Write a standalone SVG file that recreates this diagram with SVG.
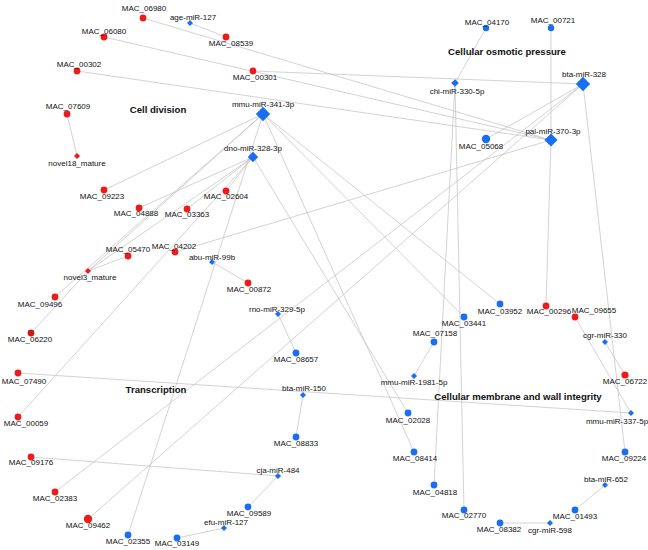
<svg xmlns="http://www.w3.org/2000/svg" xmlns:xlink="http://www.w3.org/1999/xlink" width="648" height="550" viewBox="0 0 648 550">
<style>
.e{stroke:#c4c4c4;stroke-width:0.75;fill:none}
.r{fill:#ec1c1c}
.b{fill:#1a6ff0}
text{font-family:"Liberation Sans",Arial,sans-serif;font-size:8px;fill:#111;text-anchor:middle}
text.h{font-size:9.6px;font-weight:bold}
</style>
<defs>
<path id="dl" d="M0,-7.2L7.2,0L0,7.2L-7.2,0Z"/>
<path id="dp" d="M0,-6.6L6.6,0L0,6.6L-6.6,0Z"/>
<path id="dm" d="M0,-5.2L5.2,0L0,5.2L-5.2,0Z"/>
<path id="dc" d="M0,-3.8L3.8,0L0,3.8L-3.8,0Z"/>
<path id="ds" d="M0,-3L3,0L0,3L-3,0Z"/>
</defs>
<rect width="648" height="550" fill="#fff"/>
<g id="edges" class="e">
<line x1="190" y1="23" x2="226" y2="37"/>
<line x1="143" y1="18" x2="551" y2="140"/>
<line x1="104" y1="37" x2="551" y2="140"/>
<line x1="77" y1="71" x2="551" y2="140"/>
<line x1="253" y1="71" x2="583" y2="84"/>
<line x1="67" y1="114" x2="77" y2="156"/>
<line x1="486" y1="28" x2="455" y2="83"/>
<line x1="551" y1="28" x2="551" y2="140"/>
<line x1="551" y1="140" x2="546" y2="306"/>
<line x1="486" y1="139" x2="583" y2="84"/>
<line x1="583" y1="84" x2="625" y2="452"/>
<line x1="455" y1="83" x2="434" y2="485"/>
<line x1="455" y1="83" x2="464" y2="510"/>
<line x1="175" y1="252" x2="551" y2="140"/>
<line x1="55" y1="492" x2="583" y2="84"/>
<line x1="88" y1="519" x2="583" y2="84"/>
<line x1="263" y1="114" x2="104" y2="190"/>
<line x1="263" y1="114" x2="55" y2="297"/>
<line x1="263" y1="114" x2="500" y2="304"/>
<line x1="263" y1="114" x2="464" y2="317"/>
<line x1="263" y1="114" x2="414" y2="452"/>
<line x1="263" y1="114" x2="128" y2="535"/>
<line x1="253" y1="157" x2="226" y2="191"/>
<line x1="253" y1="157" x2="187" y2="209"/>
<line x1="253" y1="157" x2="139" y2="208"/>
<line x1="253" y1="157" x2="408" y2="413"/>
<line x1="253" y1="157" x2="88" y2="271"/>
<line x1="263" y1="114" x2="88" y2="271"/>
<line x1="88" y1="271" x2="128" y2="256"/>
<line x1="88" y1="271" x2="31" y2="333"/>
<line x1="18" y1="417" x2="253" y2="157"/>
<line x1="212" y1="262" x2="248" y2="283"/>
<line x1="278" y1="314" x2="296" y2="353"/>
<line x1="18" y1="373" x2="631" y2="413"/>
<line x1="303" y1="395" x2="296" y2="437"/>
<line x1="31" y1="457" x2="278" y2="476"/>
<line x1="278" y1="476" x2="248" y2="507"/>
<line x1="224" y1="528" x2="177" y2="538"/>
<line x1="434" y1="342" x2="414" y2="376"/>
<line x1="575" y1="317" x2="631" y2="413"/>
<line x1="605" y1="342" x2="625" y2="375"/>
<line x1="605" y1="485" x2="575" y2="510"/>
<line x1="500" y1="523" x2="550" y2="523"/>
</g>
<g id="n-MAC_06980"><circle class="r" cx="143" cy="18" r="3.4"/><text x="144" y="11.3">MAC_06980</text></g>
<g id="n-age-miR-127"><use href="#ds" class="b" x="190" y="23"/><text x="193" y="20.3">age-miR-127</text></g>
<g id="n-MAC_08539"><circle class="r" cx="226" cy="37" r="3.4"/><text x="231" y="45.7">MAC_08539</text></g>
<g id="n-MAC_06080"><circle class="r" cx="104" cy="37" r="3.4"/><text x="104" y="33.7">MAC_06080</text></g>
<g id="n-MAC_00301"><circle class="r" cx="253" cy="71" r="3.4"/><text x="255" y="80.3">MAC_00301</text></g>
<g id="n-MAC_00302"><circle class="r" cx="77" cy="71" r="3.4"/><text x="79" y="67">MAC_00302</text></g>
<g id="n-MAC_07609"><circle class="r" cx="67" cy="114" r="3.4"/><text x="68" y="109">MAC_07609</text></g>
<g id="n-novel18_mature"><use href="#ds" class="r" x="77" y="156"/><text x="77" y="165.7">novel18_mature</text></g>
<g id="n-mmu-miR-341-3p"><use href="#dl" class="b" x="263" y="114"/><text x="263" y="107.3">mmu-miR-341-3p</text></g>
<g id="n-dno-miR-328-3p"><use href="#dm" class="b" x="253" y="157"/><text x="253" y="150.7">dno-miR-328-3p</text></g>
<g id="n-MAC_09223"><circle class="r" cx="104" cy="190" r="3.4"/><text x="102" y="198.7">MAC_09223</text></g>
<g id="n-MAC_04888"><circle class="r" cx="139" cy="208" r="3.4"/><text x="136" y="216.3">MAC_04888</text></g>
<g id="n-MAC_03363"><circle class="r" cx="187" cy="209" r="3.4"/><text x="187" y="217.3">MAC_03363</text></g>
<g id="n-MAC_02604"><circle class="r" cx="226" cy="191" r="3.4"/><text x="226" y="199">MAC_02604</text></g>
<g id="n-MAC_05470"><circle class="r" cx="128" cy="256" r="3.4"/><text x="128" y="252">MAC_05470</text></g>
<g id="n-MAC_04202"><circle class="r" cx="175" cy="252" r="3.4"/><text x="174" y="248.7">MAC_04202</text></g>
<g id="n-novel3_mature"><use href="#ds" class="r" x="88" y="271"/><text x="90" y="280.3">novel3_mature</text></g>
<g id="n-abu-miR-99b"><use href="#ds" class="b" x="212" y="262"/><text x="212" y="259.7">abu-miR-99b</text></g>
<g id="n-MAC_00872"><circle class="r" cx="248" cy="283" r="3.4"/><text x="249" y="292.3">MAC_00872</text></g>
<g id="n-MAC_09496"><circle class="r" cx="55" cy="297" r="3.4"/><text x="40" y="307.3">MAC_09496</text></g>
<g id="n-MAC_06220"><circle class="r" cx="31" cy="333" r="3.4" fill="#d11515" style="fill:#cf1717"/><text x="30" y="342.3">MAC_06220</text></g>
<g id="n-rno-miR-329-5p"><use href="#ds" class="b" x="278" y="314"/><text x="277" y="312">rno-miR-329-5p</text></g>
<g id="n-MAC_08657"><circle class="b" cx="296" cy="353" r="3.4"/><text x="296" y="362">MAC_08657</text></g>
<g id="n-MAC_07490"><circle class="r" cx="18" cy="373" r="3.4"/><text x="24" y="384">MAC_07490</text></g>
<g id="n-bta-miR-150"><use href="#ds" class="b" x="303" y="395"/><text x="304" y="391.3">bta-miR-150</text></g>
<g id="n-MAC_00059"><circle class="r" cx="18" cy="417" r="3.4"/><text x="26" y="426.3">MAC_00059</text></g>
<g id="n-MAC_08833"><circle class="b" cx="296" cy="437" r="3.4"/><text x="296" y="446.3">MAC_08833</text></g>
<g id="n-MAC_09176"><circle class="r" cx="31" cy="457" r="3.4"/><text x="31" y="465.3">MAC_09176</text></g>
<g id="n-cja-miR-484"><use href="#ds" class="b" x="278" y="476"/><text x="278" y="473.3">cja-miR-484</text></g>
<g id="n-MAC_02383"><circle class="r" cx="55" cy="492" r="3.4"/><text x="55" y="501">MAC_02383</text></g>
<g id="n-MAC_09589"><circle class="b" cx="248" cy="507" r="3.4"/><text x="249" y="515.7">MAC_09589</text></g>
<g id="n-MAC_09462"><circle class="r" cx="88" cy="519" r="4.2"/><text x="88" y="528.3">MAC_09462</text></g>
<g id="n-efu-miR-127"><use href="#ds" class="b" x="224" y="528"/><text x="226" y="524.7">efu-miR-127</text></g>
<g id="n-MAC_02355"><circle class="b" cx="128" cy="535" r="3.4"/><text x="128" y="543.7">MAC_02355</text></g>
<g id="n-MAC_03149"><circle class="b" cx="177" cy="538" r="3.4"/><text x="177" y="545.7">MAC_03149</text></g>
<g id="n-MAC_04170"><circle class="b" cx="486" cy="28" r="3.2"/><text x="487" y="24.7">MAC_04170</text></g>
<g id="n-MAC_00721"><circle class="b" cx="551" cy="28" r="3.2"/><text x="553" y="23">MAC_00721</text></g>
<g id="n-chi-miR-330-5p"><use href="#dc" class="b" x="455" y="83"/><text x="457" y="94">chi-miR-330-5p</text></g>
<g id="n-bta-miR-328"><use href="#dl" class="b" x="583" y="84"/><text x="584" y="77">bta-miR-328</text></g>
<g id="n-pal-miR-370-3p"><use href="#dp" class="b" x="551" y="140"/><text x="553" y="133.7">pal-miR-370-3p</text></g>
<g id="n-MAC_05068"><circle class="b" cx="486" cy="139" r="4.2"/><text x="481" y="149">MAC_05068</text></g>
<g id="n-MAC_03952"><circle class="b" cx="500" cy="304" r="3.4"/><text x="500" y="314">MAC_03952</text></g>
<g id="n-MAC_00296"><circle class="r" cx="546" cy="306" r="3.4"/><text x="549" y="314">MAC_00296</text></g>
<g id="n-MAC_09655"><circle class="r" cx="575" cy="317" r="3.4"/><text x="594" y="313">MAC_09655</text></g>
<g id="n-MAC_03441"><circle class="b" cx="464" cy="317" r="3.4"/><text x="464" y="325.7">MAC_03441</text></g>
<g id="n-MAC_07158"><circle class="b" cx="434" cy="342" r="3.4"/><text x="435" y="336.3">MAC_07158</text></g>
<g id="n-cgr-miR-330"><use href="#ds" class="b" x="605" y="342"/><text x="605" y="337.7">cgr-miR-330</text></g>
<g id="n-mmu-miR-1981-5p"><use href="#ds" class="b" x="414" y="376"/><text x="414" y="385.3">mmu-miR-1981-5p</text></g>
<g id="n-MAC_06722"><circle class="r" cx="625" cy="375" r="3.6"/><text x="625" y="383.7">MAC_06722</text></g>
<g id="n-mmu-miR-337-5p"><use href="#ds" class="b" x="631" y="413"/><text x="617" y="423.7">mmu-miR-337-5p</text></g>
<g id="n-MAC_02028"><circle class="b" cx="408" cy="413" r="3.4"/><text x="408" y="423">MAC_02028</text></g>
<g id="n-MAC_09224"><circle class="b" cx="625" cy="452" r="3.4"/><text x="624" y="460.7">MAC_09224</text></g>
<g id="n-MAC_08414"><circle class="b" cx="414" cy="452" r="3.4"/><text x="415" y="460.7">MAC_08414</text></g>
<g id="n-bta-miR-652"><use href="#ds" class="b" x="605" y="485"/><text x="606" y="482">bta-miR-652</text></g>
<g id="n-MAC_04818"><circle class="b" cx="434" cy="485" r="3.4"/><text x="435" y="494.7">MAC_04818</text></g>
<g id="n-MAC_02770"><circle class="b" cx="464" cy="510" r="3.4"/><text x="464" y="518.3">MAC_02770</text></g>
<g id="n-MAC_01493"><circle class="b" cx="575" cy="510" r="3.4"/><text x="575" y="519">MAC_01493</text></g>
<g id="n-MAC_08382"><circle class="b" cx="500" cy="523" r="3.4"/><text x="499" y="532.3">MAC_08382</text></g>
<g id="n-cgr-miR-598"><use href="#ds" class="b" x="550" y="523"/><text x="550" y="533">cgr-miR-598</text></g>
<g id="labels">
<text class="h" x="158" y="113">Cell division</text>
<text class="h" x="507" y="54.5">Cellular osmotic pressure</text>
<text class="h" x="156" y="392.8">Transcription</text>
<text class="h" x="518" y="400.2">Cellular membrane and wall integrity</text>
</g>
</svg>
